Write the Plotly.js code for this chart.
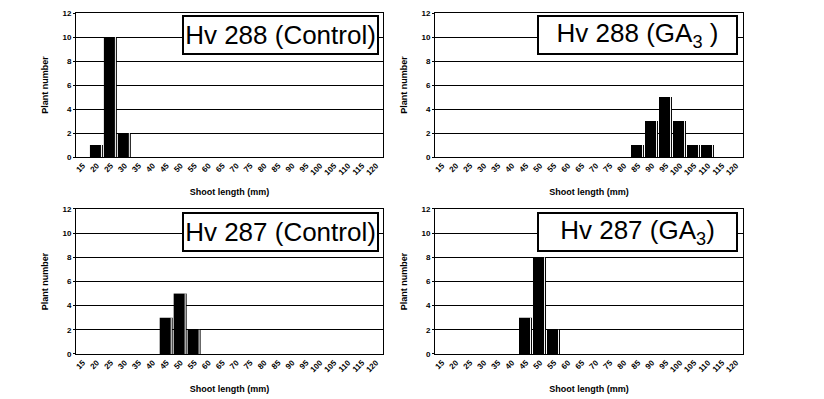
<!DOCTYPE html>
<html>
<head>
<meta charset="utf-8">
<script src="https://cdn.plot.ly/plotly-3.0.1.min.js"></script>
<style>html,body{margin:0;padding:0;background:#fff;}#chart{width:824px;height:399px;}</style>
</head>
<body>
<div id="chart"></div>
<script>
// Shoot length classes (mm)
const categories = ["15","20","25","30","35","40","45","50","55","60","65","70","75","80","85","90","95","100","105","110","115","120"];
// Plant numbers per class
const hv288Control = [0,1,10,2,0,0,0,0,0,0,0,0,0,0,0,0,0,0,0,0,0,0];
const hv288GA3     = [0,0,0,0,0,0,0,0,0,0,0,0,0,0,1,3,5,3,1,1,0,0];
const hv287Control = [0,0,0,0,0,0,3,5,2,0,0,0,0,0,0,0,0,0,0,0,0,0];
const hv287GA3     = [0,0,0,0,0,0,3,8,2,0,0,0,0,0,0,0,0,0,0,0,0,0];
const panelTitles = ["Hv 288 (Control)", "Hv 288 (GA<sub>3</sub> )", "Hv 287 (Control)", "Hv 287 (GA<sub>3</sub>)"];
const yTicks = [0,2,4,6,8,10,12];

const series = [hv288Control, hv288GA3, hv287Control, hv287GA3];
const FONT = "Liberation Sans, Arial, sans-serif";

const traces = [];
series.forEach((vals, i) => {
  const sx = i === 0 ? "x" : "x" + (i + 1);
  const sy = i === 0 ? "y" : "y" + (i + 1);
  traces.push({
    type: "bar", x: categories, y: vals, xaxis: sx, yaxis: sy,
    width: 0.93, offset: -0.5,
    marker: {color: "#000", line: {width: 0}},
    hoverinfo: "x+y", showlegend: false
  });
  traces.push({
    type: "bar", x: categories, y: vals, xaxis: sx, yaxis: sy,
    width: 0.07, offset: 0.29,
    marker: {color: "#fff", line: {width: 0}},
    hoverinfo: "skip", showlegend: false
  });
});

const xDomains = [[0.0922, 0.4648], [0.5279, 0.9017]];
const yDomains = [[0.6065, 0.9674], [0.1128, 0.4762]];

function xAxis(dom, anchor) {
  return {
    domain: dom, anchor: anchor, type: "category",
    categoryorder: "array", categoryarray: categories,
    range: [-0.5, categories.length - 0.5],
    showline: true, mirror: true, linecolor: "#000", linewidth: 1,
    showgrid: false, zeroline: false, ticks: "", tickangle: -45,
    tickfont: {family: FONT, size: 8, color: "#000", weight: "bold"},
    title: {text: "Shoot length (mm)", font: {family: FONT, size: 9, color: "#000", weight: "bold"}, standoff: 12},
    automargin: false, fixedrange: true
  };
}
function yAxis(dom, anchor) {
  return {
    domain: dom, anchor: anchor, range: [0, 12],
    tickmode: "array", tickvals: yTicks, ticktext: yTicks.map(String),
    showline: true, mirror: true, linecolor: "#000", linewidth: 1,
    showgrid: true, gridcolor: "#000", gridwidth: 1, zeroline: false,
    ticks: "outside", ticklen: 2, tickcolor: "#000",
    tickfont: {family: FONT, size: 8, color: "#000", weight: "bold"},
    title: {text: "Plant number", font: {family: FONT, size: 9, color: "#000", weight: "bold"}, standoff: 12},
    automargin: false, fixedrange: true
  };
}

const layout = {
  width: 824, height: 399,
  margin: {l: 0, r: 0, t: 0, b: 0},
  paper_bgcolor: "#fff", plot_bgcolor: "#fff",
  barmode: "overlay", showlegend: false,
  font: {family: FONT, color: "#000"},
  xaxis: xAxis(xDomains[0], "y"),
  yaxis: yAxis(yDomains[0], "x"),
  xaxis2: xAxis(xDomains[1], "y2"),
  yaxis2: yAxis(yDomains[0], "x2"),
  xaxis3: xAxis(xDomains[0], "y3"),
  yaxis3: yAxis(yDomains[1], "x3"),
  xaxis4: xAxis(xDomains[1], "y4"),
  yaxis4: yAxis(yDomains[1], "x4"),
  annotations: panelTitles.map((t, i) => ({
    text: t, xref: "paper", yref: "paper",
    x: (i % 2 === 0) ? 379 / 824 : 738 / 824,
    y: (i < 2) ? 1 - 15 / 399 : 1 - 212 / 399,
    xanchor: "right", yanchor: "top", showarrow: false,
    font: {family: FONT, size: 26, color: "#000"},
    bgcolor: "#fff", bordercolor: "#000", borderwidth: 2, borderpad: 1,
    width: (i % 2 === 0) ? 191 : 195, height: 34, align: "center", valign: "middle"
  }))
};

Plotly.newPlot("chart", traces, layout, {displayModeBar: false, staticPlot: true});
</script>
</body>
</html>
